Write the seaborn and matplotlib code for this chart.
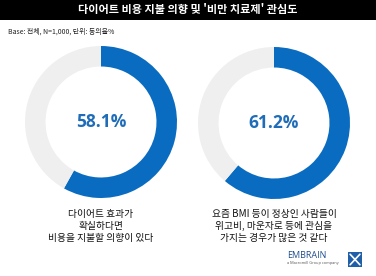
import matplotlib
matplotlib.use("Agg")
import matplotlib.pyplot as plt
import seaborn as sns
from matplotlib.patches import Rectangle

sns.set_theme(style="white")
plt.rcParams['font.family'] = ['Noto Sans CJK KR', 'DejaVu Sans']

title = "다이어트 비용 지불 의향 및 '비만 치료제' 관심도"
base_note = "Base: 전체, N=1,000, 단위: 동의율%"
values = [58.1, 61.2]
labels = ["다이어트 효과가\n확실하다면\n비용을 지불할 의향이 있다",
          "요즘 BMI 등이 정상인 사람들이\n위고비, 마운자로 등에 관심을\n가지는 경우가 많은 것 같다"]

W, H = 376, 276
fig = plt.figure(figsize=(W / 100, H / 100), dpi=100)
fig.patch.set_facecolor("white")

# Title bar
bar = fig.add_axes([0, 1 - 20 / H, 1, 20 / H])
bar.set_facecolor("black")
bar.set_xticks([]); bar.set_yticks([])
for s in bar.spines.values():
    s.set_visible(False)
bar.text(0.5, 0.5, title, color="white", fontsize=8, fontweight="bold",
         ha="center", va="center", transform=bar.transAxes)

fig.text(8 / W, 1 - 32 / H, base_note, fontsize=5, color="#222222", ha="left",
         va="center", fontweight="medium")

blue = "#0a6cc0"
grey = "#efefef"
centers = [(101, 122), (274, 123)]
R = 76
for (cx, cy), v, lab in zip(centers, values, labels):
    ax = fig.add_axes([(cx - R) / W, (H - cy - R) / H, 2 * R / W, 2 * R / H])
    ax.pie([v, 100 - v], colors=[blue, grey], startangle=90, counterclock=False,
           radius=1, wedgeprops=dict(width=0.27, edgecolor="none"))
    ax.set_xlim(-1, 1); ax.set_ylim(-1, 1)
    ax.set_aspect("equal")
    ax.axis("off")
    ax.text(0, 0, f"{v}%", ha="center", va="center", fontsize=12.5,
            fontweight="bold", color="#1f6db8", family=["Open Sans", "DejaVu Sans"])
    fig.text(cx / W, 1 - 226 / H, lab, ha="center", va="center", fontsize=7,
             color="#111111", linespacing=1.2, fontweight="medium")

# Logo
fig.text(287 / W, 1 - 255 / H, "EMBRAIN", fontsize=6.5, color="#1f4e8c",
         ha="left", va="center", family=["Open Sans", "DejaVu Sans"])
fig.text(287 / W, 1 - 263 / H, "a Macromill Group company", fontsize=2.8, color="#555555",
         ha="left", va="center", family=["Open Sans", "DejaVu Sans"])
ic = fig.add_axes([348 / W, 1 - 267 / H, 14 / W, 15 / H])
ic.set_xlim(0, 1); ic.set_ylim(0, 1); ic.axis("off")
ic.add_patch(Rectangle((0, 0), 1, 1, color="#1f5fa8"))
ic.plot([0.15, 0.85], [0.15, 0.85], color="white", lw=1.2)
ic.plot([0.15, 0.85], [0.85, 0.15], color="white", lw=1.2)

fig.savefig("out.png", dpi=100, facecolor="white")
